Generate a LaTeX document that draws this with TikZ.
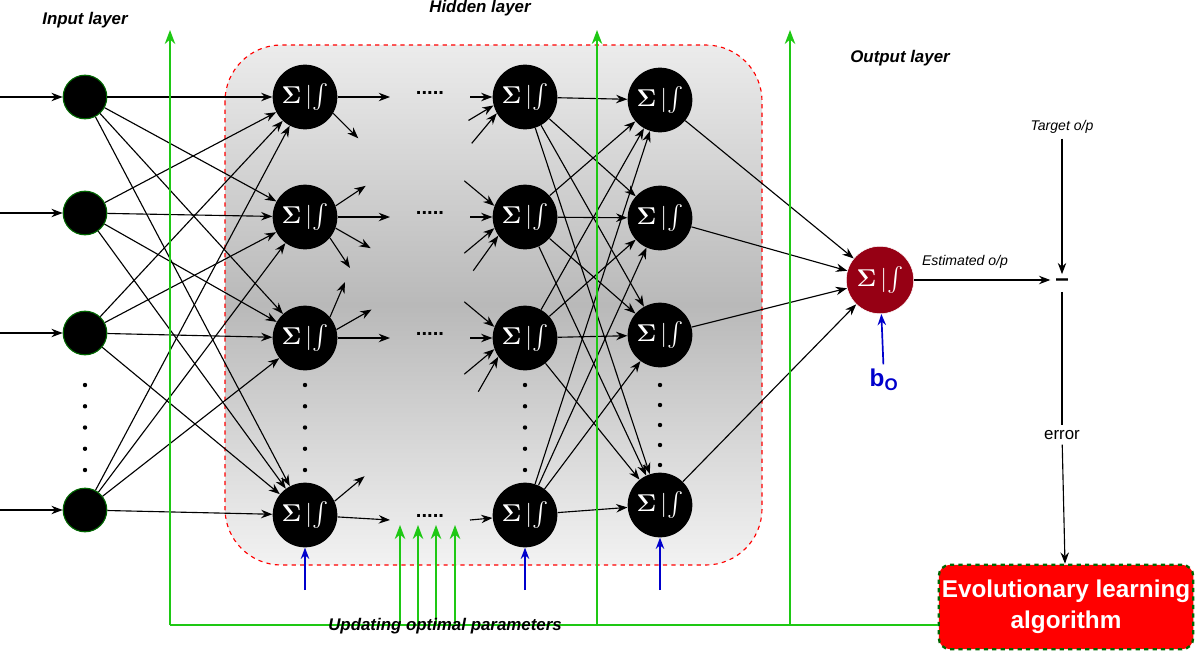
\documentclass[tikz,border=0pt]{standalone}
\usepackage{amsmath}
\usepackage{fontspec}
\setmainfont{Liberation Sans}
\usetikzlibrary{arrows.meta}
\definecolor{darkred}{RGB}{150,0,20}
\definecolor{lgreen}{RGB}{30,200,20}
\tikzset{
  inp/.style={circle,fill=black,draw=green!40!black,thick,minimum size=31pt},
  neu/.style={circle,fill=black,minimum size=46pt,inner sep=0pt,text=white,font=\LARGE},
  lay/.style={font=\large\bfseries\itshape},
  con/.style={-{Stealth[length=8pt]},thick},
  upd/.style={lgreen,very thick,-{Stealth[length=10pt]}},
  bias/.style={blue!80!black,very thick,-{Stealth[length=8pt]}}
}
\newcommand{\neutxt}{$\boldsymbol{\Sigma}\,\mathbf{|}\!\int$}
\begin{document}
\begin{tikzpicture}[x=0.025cm,y=-0.025cm]
\useasboundingbox (0,0) rectangle (1200,658);
% hidden block
\draw[red,dashed,thick,rounded corners=40,top color=gray!15,bottom color=gray!10,middle color=gray!55]
  (225,45) rectangle (762,565);
% labels
\node[lay] at (85,20) {Input layer};
\node[lay] at (480,8) {Hidden layer};
\node[lay] at (900,58) {Output layer};
% input nodes
\foreach \n/\y in {1/97,2/213,3/333,4/510} {
  \node[inp] (i\n) at (85,\y) {};
  \coordinate (s\n) at (0,\y);
  \draw[con] (s\n) -- (i\n);
}
% hidden nodes
\foreach \n/\y in {1/97,2/217,3/338,4/515} {
  \node[neu] (a\n) at (305,\y) {\neutxt};
  \node[neu] (b\n) at (525,\y) {\neutxt};
}
\foreach \n/\y in {1/100,2/218,3/335,4/505}
  \node[neu] (c\n) at (660,\y) {\neutxt};
\node[neu,fill=darkred,draw=white,minimum size=48pt] (o) at (880,280) {\neutxt};
% vertical dots
\foreach \x/\a/\b in {85/385/470,305/385/470,525/385/470,660/385/465}
  \foreach \t in {0,1,2,3,4}
    \fill (\x,{\a+\t*(\b-\a)/4}) circle (2.2);
% full connections
\foreach \p in {1,...,4}
  \foreach \q in {1,...,4} {
    \draw[con] (i\p) -- (a\q);
    \draw[con] (b\p) -- (c\q);
  }
\foreach \q in {1,...,4}
  \draw[con] (c\q) -- (o);
% hidden chains
\foreach \n/\y in {1/97,2/217,3/338,4/520} {
  \coordinate (d\n) at (390,\y);
  \coordinate (e\n) at (470,\y);
  \draw[con] (a\n) -- (d\n);
  \draw[con] (e\n) -- (b\n);
  \node[font=\bfseries\Large] at (430,\y-4) {.....};
}
% loose outputs / inputs
\foreach \n/\a/\dx/\dy in {1/-30/25/25,2/20/30/-20,2/-20/35/20,2/-40/20/30,3/40/15/-35,3/15/35/-20,4/25/30/-25}
  \draw[con] (a\n.\a) -- ++(\dx,\dy);
\foreach \n/\a/\dx/\dy in {1/210/-25/30,1/195/-25/15,2/160/-30/-25,2/200/-30/25,2/215/-25/35,3/160/-30/-25,3/200/-30/25,3/215/-20/35}
  \draw[con] (b\n.\a) ++(\dx,\dy) -- (b\n.\a);
% error path
\node[font=\bfseries\LARGE] (m) at (1062,283) {--};
\node[font=\itshape] (t) at (1062,127) {Target o/p};
\node[font=\itshape] at (965,262) {Estimated o/p};
\draw[con] (t) -- (m);
\draw[con] (o) -- (m.west|-o);
\node[draw=green!40!black,dashed,ultra thick,fill=red,rounded corners=8,text=white,font=\bfseries\LARGE,
  align=center,minimum width=181pt,minimum height=60pt,inner sep=2pt] (ev) at (1066,607) {Evolutionary learning\\algorithm};
\node[fill=white,font=\large] (er) at (1062,435) {error};
\draw[thick] (m) -- (er);
\draw[con] (er) -- (ev);
\node[blue!80!black,font=\bfseries\LARGE] (bo) at (884,380) {b$_\mathbf{O}$};
\draw[bias] (bo) -- (o);
% bias arrows
\foreach \n/\x in {a/305,b/525,c/660} {
  \coordinate (u\n) at (\x,590);
  \draw[bias] (u\n) -- (\n4);
}
% update paths
\coordinate (g0) at (170,625);
\draw[lgreen,very thick] (g0) -- (ev.west|-g0);
\foreach \x in {170,597,790} {
  \coordinate (gb\x) at (\x,625);
  \coordinate (gt\x) at (\x,30);
  \draw[upd] (gb\x) -- (gt\x);
}
\foreach \x in {400,418,436,455} {
  \coordinate (hb\x) at (\x,625);
  \coordinate (ht\x) at (\x,525);
  \draw[upd] (hb\x) -- (ht\x);
}
\node[lay] at (445,626) {Updating optimal parameters};
\end{tikzpicture}
\end{document}
